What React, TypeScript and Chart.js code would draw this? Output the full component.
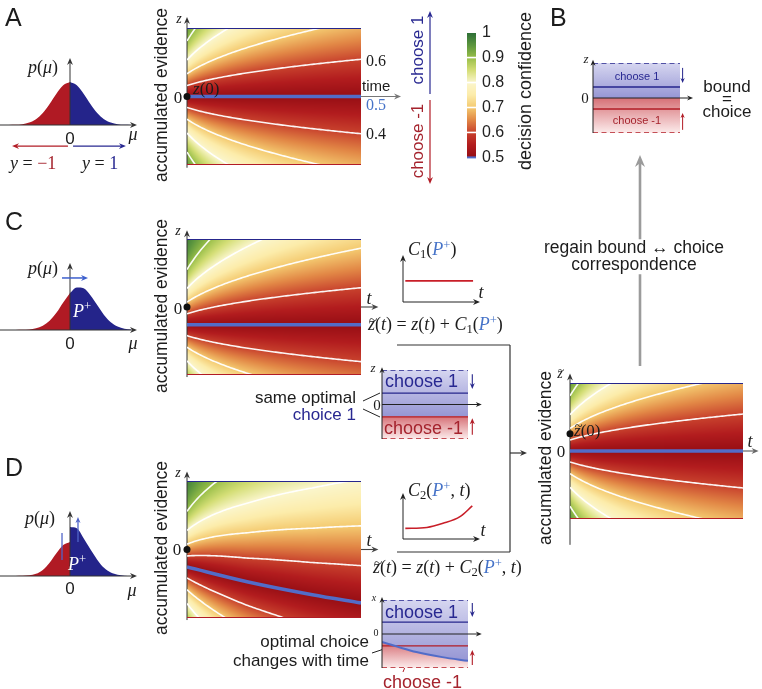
import React, { useEffect, useRef } from 'react';
import { Chart, registerables } from 'chart.js';

Chart.register(...registerables);

const SANS = '"Liberation Sans", Arial, Helvetica, sans-serif';
const SERIF = '"Liberation Serif", "DejaVu Serif", "Times New Roman", serif';

const INK = '#1c1c1c';
const NAVY = 'rgb(38,38,140)';
const CRIMSON = 'rgb(178,28,38)';
const LINE_BLUE = 'rgb(82,108,200)';
const MATH_BLUE = 'rgb(70,115,200)';
const TEXT_RED = 'rgb(165,35,45)';
const TEXT_BLUE = 'rgb(40,40,145)';
const FILL_RED = 'rgb(176,26,36)';
const FILL_BLUE = 'rgb(36,36,138)';

// ---------------- data ----------------
const contourLevels = [0.6, 0.7, 0.8, 0.9];
const colorbarTicks = [0.5, 0.6, 0.7, 0.8, 0.9, 1];
const cmapStops = [0.5, 0.55, 0.6, 0.65, 0.7, 0.75, 0.8, 0.85, 0.9, 0.95, 1];
const cmapR = [150, 178, 200, 226, 244, 252, 251, 212, 152, 92, 45];
const cmapG = [14, 28, 66, 136, 202, 236, 246, 222, 190, 150, 110];
const cmapB = [20, 30, 45, 70, 112, 170, 205, 118, 72, 62, 55];

const evidenceGain = 1.58;
const timeGain = 10.5;

// decision boundaries (z where confidence = 0.5)
const flatT = [0, 1];
const boundaryAZ = [0, 0];
const boundaryCZ = [-0.26, -0.26];
const boundaryDT = [0, 0.345, 0.72, 1];
const boundaryDZ = [-0.255, -0.47, -0.66, -0.78];
const startZA = 0;
const startZBig = 0.255;

// priors p(mu)
const muNeg = [-3.6, -3.2, -2.8, -2.4, -2.0, -1.6, -1.2, -0.8, -0.4, 0];
const muPos = [0, 0.4, 0.8, 1.2, 1.6, 2.0, 2.4, 2.8, 3.2, 3.6];
const priorANeg = [0.002, 0.006, 0.02, 0.056, 0.135, 0.278, 0.487, 0.726, 0.923, 1];
const priorAPos = [1, 0.923, 0.726, 0.487, 0.278, 0.135, 0.056, 0.02, 0.006, 0.002];
const priorCNeg = [0, 0.001, 0.004, 0.013, 0.039, 0.099, 0.216, 0.4, 0.64, 0.86];
const priorCPos = [0.86, 0.99, 0.97, 0.81, 0.58, 0.35, 0.18, 0.08, 0.03, 0.01];
const priorDNeg = [0, 0.002, 0.006, 0.016, 0.05, 0.14, 0.31, 0.53, 0.72, 0.79];
const priorDPos = [1.14, 1.11, 0.88, 0.62, 0.38, 0.19, 0.08, 0.03, 0.008, 0.002];

// offset functions C1, C2
const c1T = [0.03, 0.91];
const c1V = [0.45, 0.45];
const c2T = [0.03, 0.31, 0.52, 0.74, 0.9];
const c2V = [0.23, 0.25, 0.34, 0.485, 0.72];

// bound diagrams: [choose-1 bound, choose-(-1) bound], split between regions
const boxBLevels = [0.314, -0.314];
const boxBSplit = [0, 0];
const boxCLevels = [0.33, -0.36];
const boxCSplit = [-0.34, -0.34];
const boxDLevels = [0.35, -0.35];
const boxDT = [0, 0.2, 0.4, 0.7, 1];
const boxDSplit = [-0.235, -0.39, -0.53, -0.68, -0.79];

// ---------------- helpers ----------------
function erf(x: number) {
  const s = Math.sign(x);
  const a = Math.abs(x);
  const t = 1 / (1 + 0.3275911 * a);
  const y = 1 - ((((1.061405429 * t - 1.453152027) * t + 1.421413741) * t - 0.284496736) * t + 0.254829592) * t * Math.exp(-a * a);
  return s * y;
}
const Phi = (x: number) => 0.5 * (1 + erf(x / Math.SQRT2));
function PhiInv(p: number) {
  let lo = -8, hi = 8;
  for (let i = 0; i < 80; i++) {
    const m = (lo + hi) / 2;
    if (Phi(m) < p) lo = m; else hi = m;
  }
  return (lo + hi) / 2;
}
function interp(xs: number[], ys: number[], x: number) {
  if (x <= xs[0]) return ys[0];
  for (let i = 1; i < xs.length; i++) {
    if (x <= xs[i]) {
      const f = (x - xs[i - 1]) / (xs[i] - xs[i - 1]);
      return ys[i - 1] + f * (ys[i] - ys[i - 1]);
    }
  }
  return ys[ys.length - 1];
}
function cmap(v: number) {
  const c = Math.max(0.5, Math.min(1, v));
  let i = 1;
  while (i < cmapStops.length - 1 && c > cmapStops[i]) i++;
  const f = (c - cmapStops[i - 1]) / (cmapStops[i] - cmapStops[i - 1]);
  return [
    cmapR[i - 1] + f * (cmapR[i] - cmapR[i - 1]),
    cmapG[i - 1] + f * (cmapG[i] - cmapG[i - 1]),
    cmapB[i - 1] + f * (cmapB[i] - cmapB[i - 1]),
  ];
}
const pts = (xs: number[], ys: number[]) => xs.map((x, i) => ({ x, y: ys[i] }));

type Item = { k: 'a' | 'l' | 'd'; p: number[]; c: string; w?: number; h?: number; dash?: number[] };
const arr = (x1: number, y1: number, x2: number, y2: number, c: string, w = 1, h = 7): Item => ({ k: 'a', p: [x1, y1, x2, y2], c, w, h });
const seg = (x1: number, y1: number, x2: number, y2: number, c: string, w = 1, dash?: number[]): Item => ({ k: 'l', p: [x1, y1, x2, y2], c, w, dash });
const dot = (x: number, y: number, c: string, r = 3.5): Item => ({ k: 'd', p: [x, y, r], c });

function drawItems(chart: any, items: Item[]) {
  const ctx = chart.ctx;
  const xs = chart.scales.x, ys = chart.scales.y;
  ctx.save();
  for (const it of items) {
    if (it.k === 'd') {
      ctx.fillStyle = it.c;
      ctx.beginPath();
      ctx.arc(xs.getPixelForValue(it.p[0]), ys.getPixelForValue(it.p[1]), it.p[2], 0, Math.PI * 2);
      ctx.fill();
      continue;
    }
    const x1 = xs.getPixelForValue(it.p[0]), y1 = ys.getPixelForValue(it.p[1]);
    const x2 = xs.getPixelForValue(it.p[2]), y2 = ys.getPixelForValue(it.p[3]);
    const ang = Math.atan2(y2 - y1, x2 - x1);
    const L = it.h || 7;
    let ex = x2, ey = y2;
    if (it.k === 'a') { ex = x2 - Math.cos(ang) * L * 0.6; ey = y2 - Math.sin(ang) * L * 0.6; }
    ctx.strokeStyle = it.c;
    ctx.lineWidth = it.w || 1;
    ctx.setLineDash(it.dash || []);
    ctx.beginPath();
    ctx.moveTo(x1, y1);
    ctx.lineTo(ex, ey);
    ctx.stroke();
    if (it.k === 'a') {
      const W = L * 0.42;
      const co = Math.cos(ang), si = Math.sin(ang);
      ctx.fillStyle = it.c;
      ctx.beginPath();
      ctx.moveTo(x2, y2);
      ctx.lineTo(x2 - L * co - W * si, y2 - L * si + W * co);
      ctx.lineTo(x2 - L * 0.68 * co, y2 - L * 0.68 * si);
      ctx.lineTo(x2 - L * co + W * si, y2 - L * si - W * co);
      ctx.closePath();
      ctx.fill();
    }
  }
  ctx.restore();
}

function panelPlugin(opts: { heat?: (t: number, z: number) => number; under?: Item[]; over?: Item[] }) {
  return {
    id: 'panel',
    beforeDatasetsDraw(chart: any) {
      const a = chart.chartArea;
      if (opts.heat) {
        const w = Math.round(a.right - a.left), h = Math.round(a.bottom - a.top);
        const off = document.createElement('canvas');
        off.width = w; off.height = h;
        const oc = off.getContext('2d')!;
        const img = oc.createImageData(w, h);
        const xs = chart.scales.x, ys = chart.scales.y;
        for (let j = 0; j < h; j++) {
          const z = ys.getValueForPixel(a.top + j + 0.5);
          for (let i = 0; i < w; i++) {
            const t = xs.getValueForPixel(a.left + i + 0.5);
            const c = cmap(opts.heat(t, z));
            const o = (j * w + i) * 4;
            img.data[o] = c[0]; img.data[o + 1] = c[1]; img.data[o + 2] = c[2]; img.data[o + 3] = 255;
          }
        }
        oc.putImageData(img, 0, 0);
        chart.ctx.drawImage(off, a.left, a.top);
      }
      drawItems(chart, opts.under || []);
    },
    afterDatasetsDraw(chart: any) {
      drawItems(chart, opts.over || []);
    },
  };
}

function mkConfig(xr: number[], yr: number[], pad: any, datasets: any[], plugin: any, yReverse = false) {
  return {
    type: 'line',
    data: { datasets },
    options: {
      responsive: false,
      animation: false,
      devicePixelRatio: 1,
      events: [],
      layout: { padding: pad },
      plugins: { legend: { display: false }, tooltip: { enabled: false } },
      scales: {
        x: { type: 'linear', display: false, min: xr[0], max: xr[1] },
        y: { type: 'linear', display: false, min: yr[0], max: yr[1], reverse: yReverse },
      },
      elements: { point: { radius: 0 } },
    },
    plugins: plugin ? [plugin] : [],
  };
}

function ChartCanvas({ left, top, width, height, make }: any) {
  const ref = useRef<HTMLCanvasElement>(null);
  useEffect(() => {
    const ch = new Chart(ref.current as any, make());
    return () => ch.destroy();
  }, []);
  return <canvas ref={ref} width={width} height={height} style={{ position: 'absolute', left, top, width, height }} />;
}

// ---------------- chart configs ----------------
function heatConfig(bT: number[], bZ: number[], pad: any, under: Item[], over: Item[]) {
  const b = (t: number) => interp(bT, bZ, t);
  const conf = (t: number, z: number) => Phi((evidenceGain * Math.abs(z - b(t))) / Math.sqrt(1 + timeGain * t));
  const ts = Array.from({ length: 101 }, (_, i) => i / 100);
  const contours: any[] = [];
  contourLevels.forEach((L) => {
    const q = PhiInv(L) / evidenceGain;
    [1, -1].forEach((s) => {
      contours.push({
        data: ts.map((t) => ({ x: t, y: b(t) + s * q * Math.sqrt(1 + timeGain * t) })),
        borderColor: 'rgba(255,255,255,0.95)',
        borderWidth: 1.6,
        fill: false,
      });
    });
  });
  const datasets = [
    { data: pts(bT, bZ), borderColor: LINE_BLUE, borderWidth: 3.6, cubicInterpolationMode: 'monotone' },
    { data: pts(flatT, [1, 1]), borderColor: NAVY, borderWidth: 1.8 },
    { data: pts(flatT, [-1, -1]), borderColor: CRIMSON, borderWidth: 1.8 },
    ...contours,
  ];
  return mkConfig([0, 1], [-1, 1], pad, datasets, panelPlugin({ heat: conf, under, over }));
}

function gaussConfig(neg: number[], pos: number[], yr: number[], over: Item[]) {
  const datasets = [
    { data: pts(muNeg, neg), fill: 'origin', backgroundColor: FILL_RED, borderWidth: 0, cubicInterpolationMode: 'monotone' },
    { data: pts(muPos, pos), fill: 'origin', backgroundColor: FILL_BLUE, borderWidth: 0, cubicInterpolationMode: 'monotone' },
  ];
  return mkConfig([-70 / 17, 75 / 17], yr, 0, datasets, panelPlugin({ over }));
}

function vgrad(z1: number, z2: number, c1: string, c2: string) {
  return (ctx: any) => {
    const ch = ctx.chart;
    if (!ch.chartArea) return c1;
    const y = ch.scales.y;
    const g = ch.ctx.createLinearGradient(0, y.getPixelForValue(z1), 0, y.getPixelForValue(z2));
    g.addColorStop(0, c1);
    g.addColorStop(1, c2);
    return g;
  };
}

function boxConfig(splitT: number[], splitZ: number[], levels: number[], blueGrad: number[], redGrad: number[], curve: boolean, pad: any, over: Item[]) {
  const split = pts(splitT, splitZ);
  const datasets: any[] = [];
  if (curve) datasets.push({ data: split, borderColor: LINE_BLUE, borderWidth: 2, cubicInterpolationMode: 'monotone' });
  datasets.push(
    { data: pts(flatT, [levels[0], levels[0]]), borderColor: NAVY, borderWidth: 1.4 },
    { data: pts(flatT, [levels[1], levels[1]]), borderColor: CRIMSON, borderWidth: 1.4 },
    { data: pts(flatT, [1, 1]), borderColor: NAVY, borderWidth: 1.4, borderDash: [5, 3.5] },
    { data: pts(flatT, [-1, -1]), borderColor: CRIMSON, borderWidth: 1.4, borderDash: [5, 3.5] },
    { data: split, fill: 'end', backgroundColor: vgrad(blueGrad[0], blueGrad[1], 'rgb(214,214,240)', 'rgb(150,150,212)'), borderWidth: 0, cubicInterpolationMode: 'monotone' },
    { data: split, fill: 'start', backgroundColor: vgrad(redGrad[0], redGrad[1], 'rgb(214,112,118)', 'rgb(252,236,236)'), borderWidth: 0, cubicInterpolationMode: 'monotone' },
  );
  return mkConfig([0, 1], [-1, 1], pad, datasets, panelPlugin({ over }));
}

function offsetConfig(ts: number[], vs: number[]) {
  const datasets = [{ data: pts(ts, vs), borderColor: 'rgb(200,30,40)', borderWidth: 1.6, cubicInterpolationMode: 'monotone' }];
  return mkConfig([0, 1], [0, 1], { left: 7, top: 10, right: 8, bottom: 5 }, datasets,
    panelPlugin({ over: [arr(0, 0, 1, 0, '#222', 1, 7), arr(0, 0, 0, 1, '#222', 1, 7)] }));
}

function colorbarConfig() {
  const sep: Item[] = [0.6, 0.7, 0.8, 0.9].map((v) => seg(0, v, 1, v, '#ffffff', 1.6));
  sep.push(seg(0, 0.5, 1, 0.5, LINE_BLUE, 2));
  return {
    type: 'line',
    data: { datasets: [] },
    options: {
      responsive: false,
      animation: false,
      devicePixelRatio: 1,
      events: [],
      layout: { padding: { top: 10, bottom: 10, left: 0, right: 0 } },
      plugins: { legend: { display: false }, tooltip: { enabled: false } },
      scales: {
        x: { type: 'linear', display: false, min: 0, max: 1 },
        y: {
          type: 'linear', position: 'right', min: 0.5, max: 1,
          grid: { display: false, drawTicks: false },
          border: { display: false },
          afterBuildTicks: (s: any) => { s.ticks = colorbarTicks.map((v) => ({ value: v })); },
          afterFit: (s: any) => { s.width = 41; },
          ticks: { padding: 6, color: '#222', font: { family: SANS, size: 16 }, callback: (v: any) => String(Number(Number(v).toFixed(1))) },
        },
      },
    },
    plugins: [panelPlugin({ heat: (_t, z) => z, over: sep })],
  };
}

function overlayConfig() {
  const items: Item[] = [
    arr(430, 94, 430, 11, TEXT_BLUE, 1.2, 7),
    arr(430, 100, 430, 184, CRIMSON, 1.2, 7),
    arr(640, 366, 640, 155, '#9b9b9b', 2.6, 12),
    seg(397, 345, 510, 345, '#333', 1.2),
    seg(510, 345, 510, 552, '#333', 1.2),
    seg(397, 552, 510, 552, '#333', 1.2),
    arr(510, 453, 527, 453, '#333', 1.2, 7),
    seg(363, 401, 380, 393, '#222', 1),
    seg(363, 409, 380, 417, '#222', 1),
    seg(372, 653, 390, 647, '#222', 1),
    seg(403, 672, 407, 662, CRIMSON, 1),
  ];
  return mkConfig([0, 762], [0, 689], 0, [], panelPlugin({ over: items }), true);
}

// ---------------- text ----------------
function T({ x, y, children, size = 17, color = INK, font = SANS, anchor = 'l', rot = false, italic = false, bg }: any) {
  const tx = anchor === 'l' ? '0' : anchor === 'r' ? '-100%' : '-50%';
  return (
    <div style={{
      position: 'absolute', left: x, top: y,
      transform: `translate(${tx},-50%)${rot ? ' rotate(-90deg)' : ''}`,
      fontFamily: font, fontSize: size, color, lineHeight: 1, whiteSpace: 'nowrap',
      fontStyle: italic ? 'italic' : 'normal', background: bg, padding: bg ? '0 2px' : undefined,
    }}>{children}</div>
  );
}
const Sub = ({ children }: any) => <span style={{ fontSize: '0.7em', verticalAlign: '-0.25em' }}>{children}</span>;
const Sup = ({ children }: any) => <span style={{ fontSize: '0.7em', verticalAlign: '0.5em' }}>{children}</span>;
const ZT = () => (
  <span style={{ position: 'relative', display: 'inline-block' }}>
    <i>z</i>
    <span style={{ position: 'absolute', left: '0.06em', top: '-0.2em', fontStyle: 'normal', fontSize: '0.85em' }}>~</span>
  </span>
);
const PP = () => <span style={{ color: MATH_BLUE }}><i>P</i><Sup>+</Sup></span>;
const Pmu = () => <><i>p</i>(<i>μ</i>)</>;

export default function App() {
  const gaussAxis = (top: number): Item[] => [arr(-4.12, 0, 3.94, 0, '#333', 1, 7), arr(0, 0, 0, top, '#333', 1, 7)];
  return (
    <div style={{ position: 'absolute', left: 0, top: 0, width: 762, height: 689, background: '#fff', overflow: 'hidden' }}>
      <ChartCanvas left={0} top={0} width={762} height={689} make={overlayConfig} />

      {/* priors */}
      <ChartCanvas left={0} top={50} width={145} height={105}
        make={() => gaussConfig(priorANeg, priorAPos, [-30 / 43, 75 / 43], [
          ...gaussAxis(1.56),
          arr(-0.12, -0.49, -3.41, -0.49, CRIMSON, 1.2, 7),
          arr(0.18, -0.49, 3.29, -0.49, TEXT_BLUE, 1.2, 7),
        ])} />
      <ChartCanvas left={0} top={255} width={145} height={90}
        make={() => gaussConfig(priorCNeg, priorCPos, [-15 / 43, 75 / 43], [
          ...gaussAxis(1.56),
          arr(-0.47, 1.21, 1.06, 1.21, 'rgb(60,95,205)', 1.5, 7),
        ])} />
      <ChartCanvas left={0} top={500} width={145} height={90}
        make={() => gaussConfig(priorDNeg, priorDPos, [-14 / 43, 76 / 43], [
          ...gaussAxis(1.51),
          seg(-0.47, 0.37, -0.47, 1.0, 'rgb(80,100,200)', 1.3),
          arr(0.47, 0.79, 0.47, 1.37, 'rgb(80,100,200)', 1.3, 6),
        ])} />

      {/* heatmaps */}
      <ChartCanvas left={180} top={12} width={226} height={162}
        make={() => heatConfig(flatT, boundaryAZ, { left: 7, top: 16, right: 45, bottom: 9 },
          [arr(1, 0, 1.23, 0, '#777', 1.2, 7), arr(0, -1.04, 0, 1.16, '#333', 1, 7)],
          [dot(0, startZA, '#111')])} />
      <ChartCanvas left={180} top={224} width={205} height={158}
        make={() => heatConfig(flatT, boundaryCZ, { left: 7, top: 15, right: 24, bottom: 7 },
          [arr(1, 0, 1.1, 0, '#444', 1.1, 7), arr(0, -1.03, 0, 1.13, '#333', 1, 7)],
          [dot(0, 0, '#111')])} />
      <ChartCanvas left={180} top={466} width={205} height={158}
        make={() => heatConfig(boundaryDT, boundaryDZ, { left: 7, top: 15, right: 24, bottom: 6 },
          [arr(1, 0, 1.1, 0, '#444', 1.1, 7), arr(0, -1.03, 0, 1.14, '#333', 1, 7)],
          [dot(0, 0, '#111')])} />
      <ChartCanvas left={562} top={366} width={200} height={184}
        make={() => heatConfig(flatT, boundaryAZ, { left: 8, top: 17, right: 19, bottom: 31 },
          [arr(1, 0, 1.09, 0, '#666', 1.2, 7), arr(0, -1.38, 0, 1.14, '#333', 1, 7)],
          [dot(0, startZBig, '#111')])} />

      {/* colorbar */}
      <ChartCanvas left={467} top={17} width={50} height={156} make={colorbarConfig} />

      {/* offset functions */}
      <ChartCanvas left={396} top={245} width={92} height={62} make={() => offsetConfig(c1T, c1V)} />
      <ChartCanvas left={396} top={483} width={92} height={61} make={() => offsetConfig(c2T, c2V)} />

      {/* bound diagrams */}
      <ChartCanvas left={585} top={54} width={112} height={84}
        make={() => boxConfig(flatT, boxBSplit, boxBLevels, [1, 0], [0, -1], false, { left: 8, top: 9, right: 17, bottom: 5 }, [
          arr(0, -1, 0, 1.09, '#222', 1, 6), arr(0, 0, 1.15, 0, '#222', 1, 6),
          arr(1.03, 0.86, 1.03, 0.43, NAVY, 1, 5), arr(1.03, -0.91, 1.03, -0.43, CRIMSON, 1, 5),
        ])} />
      <ChartCanvas left={374} top={361} width={112} height={83}
        make={() => boxConfig(flatT, boxCSplit, boxCLevels, [1, -0.34], [-0.34, -1], false, { left: 8, top: 9, right: 18, bottom: 5 }, [
          arr(0, -1, 0, 1.08, '#222', 1, 6), arr(0, 0, 1.16, 0, '#222', 1, 6),
          arr(1.05, 0.88, 1.05, 0.45, NAVY, 1.1, 6), arr(1.05, -0.88, 1.05, -0.4, CRIMSON, 1.1, 6),
        ])} />
      <ChartCanvas left={374} top={591} width={112} height={82}
        make={() => boxConfig(boxDT, boxDSplit, boxDLevels, [1, -0.8], [-0.25, -1], true, { left: 8, top: 9, right: 18, bottom: 5 }, [
          arr(0, -1, 0, 1.09, '#222', 1, 6), arr(0, 0, 1.16, 0, '#222', 1, 6),
          arr(1.05, 0.91, 1.05, 0.5, NAVY, 1.1, 6), arr(1.05, -0.91, 1.05, -0.47, CRIMSON, 1.1, 6),
        ])} />

      {/* panel letters */}
      <T x={5} y={17} size={25}>A</T>
      <T x={550} y={17} size={25}>B</T>
      <T x={5} y={221} size={25}>C</T>
      <T x={5} y={467} size={25}>D</T>

      {/* prior labels */}
      <T x={28} y={67} size={18} font={SERIF}><Pmu /></T>
      <T x={70} y={138} anchor="c">0</T>
      <T x={133} y={134} anchor="c" font={SERIF} italic size={18}>μ</T>
      <T x={10} y={163} font={SERIF} size={18}><i>y</i> = <span style={{ color: TEXT_RED }}>−1</span></T>
      <T x={82} y={163} font={SERIF} size={18}><i>y</i> = <span style={{ color: TEXT_BLUE }}>1</span></T>

      <T x={28} y={268} size={18} font={SERIF}><Pmu /></T>
      <T x={70} y={343} anchor="c">0</T>
      <T x={133} y={343} anchor="c" font={SERIF} italic size={18}>μ</T>
      <T x={73} y={310} font={SERIF} size={18} color="#fff"><i>P</i><Sup>+</Sup></T>

      <T x={25} y={518} size={18} font={SERIF}><Pmu /></T>
      <T x={70} y={588} anchor="c">0</T>
      <T x={132} y={590} anchor="c" font={SERIF} italic size={18}>μ</T>
      <T x={68} y={563} font={SERIF} size={18} color="#fff"><i>P</i><Sup>+</Sup></T>

      {/* heatmap labels */}
      <T x={162} y={95} anchor="c" rot size={17.5}>accumulated evidence</T>
      <T x={162} y={306} anchor="c" rot size={17.5}>accumulated evidence</T>
      <T x={162} y={548} anchor="c" rot size={17.5}>accumulated evidence</T>
      <T x={546} y={458} anchor="c" rot size={17.5}>accumulated evidence</T>

      <T x={179} y={19} anchor="c" font={SERIF} italic size={14}>z</T>
      <T x={178} y={97} anchor="c" font={SERIF} size={17}>0</T>
      <T x={193} y={88} font={SERIF} size={17}><i>z</i>(0)</T>
      <T x={366} y={61} font={SERIF} size={16}>0.6</T>
      <T x={362} y={85} size={15}>time</T>
      <T x={366} y={105} font={SERIF} size={16} color={MATH_BLUE}>0.5</T>
      <T x={366} y={134} font={SERIF} size={16}>0.4</T>
      <T x={417} y={50} anchor="c" rot color={TEXT_BLUE}>choose 1</T>
      <T x={417} y={141} anchor="c" rot color={TEXT_RED}>choose -1</T>
      <T x={525} y={91} anchor="c" rot size={18}>decision confidence</T>

      {/* B */}
      <T x={586} y={58} anchor="c" font={SERIF} italic size={13}>z</T>
      <T x={585} y={98} anchor="c" font={SERIF} size={15}>0</T>
      <T x={637} y={76} anchor="c" size={11} color={TEXT_BLUE}>choose 1</T>
      <T x={637} y={120} anchor="c" size={11} color={TEXT_RED}>choose -1</T>
      <T x={727} y={86} anchor="c">bound</T>
      <T x={727} y={98} anchor="c">=</T>
      <T x={727} y={111} anchor="c">choice</T>

      <T x={634} y={248} anchor="c" size={17.5} bg="#fff">regain bound ↔ choice</T>
      <T x={634} y={265} anchor="c" size={17.5} bg="#fff">correspondence</T>

      {/* C */}
      <T x={178} y={231} anchor="c" font={SERIF} italic size={14}>z</T>
      <T x={178} y={308} anchor="c" font={SERIF} size={17}>0</T>
      <T x={369} y={298} anchor="c" font={SERIF} italic size={18}>t</T>
      <T x={408} y={250} font={SERIF} size={18}><i>C</i><Sub>1</Sub>(<PP />)</T>
      <T x={481} y={292} anchor="c" font={SERIF} italic size={18}>t</T>
      <T x={368} y={325} font={SERIF} size={18}><ZT />(<i>t</i>) = <i>z</i>(<i>t</i>) + <i>C</i><Sub>1</Sub>(<PP />)</T>
      <T x={373} y={367} anchor="c" font={SERIF} italic size={13}>z</T>
      <T x={377} y={405} anchor="c" font={SERIF} size={15}>0</T>
      <T x={385} y={381} size={18} color={TEXT_BLUE}>choose 1</T>
      <T x={384} y={428} size={18} color={TEXT_RED}>choose -1</T>
      <T x={356} y={397} anchor="r">same optimal</T>
      <T x={356} y={414} anchor="r" color={TEXT_BLUE}>choice 1</T>

      {/* D */}
      <T x={178} y={473} anchor="c" font={SERIF} italic size={14}>z</T>
      <T x={177} y={549} anchor="c" font={SERIF} size={17}>0</T>
      <T x={369} y={540} anchor="c" font={SERIF} italic size={18}>t</T>
      <T x={408} y={491} font={SERIF} size={18}><i>C</i><Sub>2</Sub>(<PP />, <i>t</i>)</T>
      <T x={483} y={530} anchor="c" font={SERIF} italic size={18}>t</T>
      <T x={373} y={568} font={SERIF} size={18}><ZT />(<i>t</i>) = <i>z</i>(<i>t</i>) + <i>C</i><Sub>2</Sub>(<PP />, <i>t</i>)</T>
      <T x={374} y={598} anchor="c" font={SERIF} italic size={10}>x</T>
      <T x={376} y={633} anchor="c" font={SERIF} size={10}>0</T>
      <T x={385} y={612} size={18} color={TEXT_BLUE}>choose 1</T>
      <T x={383} y={682} size={18} color={TEXT_RED}>choose -1</T>
      <T x={369} y={641} anchor="r">optimal choice</T>
      <T x={369} y={660} anchor="r">changes with time</T>

      {/* big heatmap */}
      <T x={560} y={374} font={SERIF} size={14} anchor="c"><ZT /></T>
      <T x={561} y={451} anchor="c" font={SERIF} size={17}>0</T>
      <T x={574} y={430} font={SERIF} size={17}><ZT />(0)</T>
      <T x={750} y={441} anchor="c" font={SERIF} italic size={18}>t</T>
    </div>
  );
}
